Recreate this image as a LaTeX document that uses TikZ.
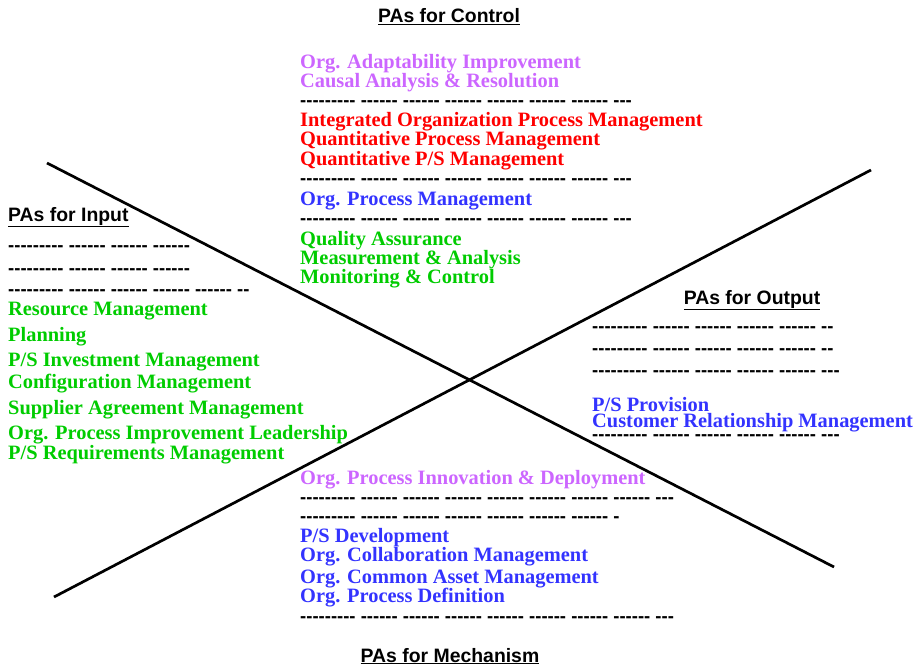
\documentclass[tikz,border=0pt]{standalone}
\usepackage{fontspec}
\setmainfont{Liberation Serif}
\setsansfont{Liberation Sans}
\newfontfamily\hyfont[Ligatures=TeXOff]{Liberation Sans}
\definecolor{paviolet}{RGB}{204,102,255}
\definecolor{pared}{RGB}{255,0,0}
\definecolor{pablue}{RGB}{51,51,255}
\definecolor{pagreen}{RGB}{0,204,0}

\begin{document}
\begin{tikzpicture}[x=1pt, y=-1pt]
\tikzset{pa/.style={anchor=base west, inner sep=0pt, font=\fontsize{20.4}{20.4}\selectfont\bfseries},
  pahead/.style={anchor=base, inner sep=0pt, font=\fontsize{19.4}{19.4}\selectfont\sffamily\bfseries},
  pasep/.style={anchor=base west, inner sep=0pt, font=\fontsize{18.5}{18.5}\selectfont\hyfont\bfseries}}
\useasboundingbox (0, 0) rectangle (924, 666);
\coordinate (A1) at (47, 163);
\coordinate (A2) at (834, 567);
\coordinate (B1) at (54, 597);
\coordinate (B2) at (871, 170);
\draw[line width=2.7pt] (A1) -- (A2);
\draw[line width=2.7pt] (B1) -- (B2);
% control
\node[pahead] (HC) at (449, 23) {\underline{PAs for Control}};
\node[pa, paviolet] (C1) at (300, 69) {Org. Adaptability Improvement};
\node[pa, paviolet] (C2) at (300, 88) {Causal Analysis \& Resolution};
\node[pasep] (C3) at (300, 107) {--------- ------ ------ ------ ------ ------ ------ ---};
\node[pa, pared] (C4) at (300, 127) {Integrated Organization Process Management};
\node[pa, pared] (C5) at (300, 146) {Quantitative Process Management};
\node[pa, pared] (C6) at (300, 166) {Quantitative P/S Management};
\node[pasep] (C7) at (300, 185) {--------- ------ ------ ------ ------ ------ ------ ---};
\node[pa, pablue] (C8) at (300, 205) {Org. Process Management};
\node[pasep] (C9) at (300, 224) {--------- ------ ------ ------ ------ ------ ------ ---};
\node[pa, pagreen] (C10) at (300, 245) {Quality Assurance};
\node[pa, pagreen] (C11) at (300, 264) {Measurement \& Analysis};
\node[pa, pagreen] (C12) at (300, 283) {Monitoring \& Control};
% input
\node[pahead, anchor=base west] (HI) at (8, 221) {\underline{PAs for Input}};
\node[pasep] (I1) at (8, 251) {--------- ------ ------ ------};
\node[pasep] (I2) at (8, 274) {--------- ------ ------ ------};
\node[pasep] (I3) at (8, 295) {--------- ------ ------ ------ ------ --};
\node[pa, pagreen] (I4) at (8, 315) {Resource Management};
\node[pa, pagreen] (I5) at (8, 341) {Planning};
\node[pa, pagreen] (I6) at (8, 366) {P/S Investment Management};
\node[pa, pagreen] (I7) at (8, 388) {Configuration Management};
\node[pa, pagreen] (I8) at (8, 414) {Supplier Agreement Management};
\node[pa, pagreen] (I9) at (8, 439) {Org. Process Improvement Leadership};
\node[pa, pagreen] (I10) at (8, 459) {P/S Requirements Management};
% output
\node[pahead] (HO) at (752, 304) {\underline{PAs for Output}};
\node[pasep] (O1) at (592, 332) {--------- ------ ------ ------ ------ --};
\node[pasep] (O2) at (592, 354) {--------- ------ ------ ------ ------ --};
\node[pasep] (O3) at (592, 376) {--------- ------ ------ ------ ------ ---};
\node[pasep] (O4) at (592, 440) {--------- ------ ------ ------ ------ ---};
\node[pa, pablue] (O5) at (592, 411) {P/S Provision};
\node[pa, pablue] (O6) at (592, 427) {Customer Relationship Management};
% mechanism
\node[pa, paviolet] (M1) at (300, 484) {Org. Process Innovation \& Deployment};
\node[pasep] (M2) at (300, 503) {--------- ------ ------ ------ ------ ------ ------ ------ ---};
\node[pasep] (M3) at (300, 522) {--------- ------ ------ ------ ------ ------ ------ -};
\node[pa, pablue] (M4) at (300, 542) {P/S Development};
\node[pa, pablue] (M5) at (300, 561) {Org. Collaboration Management};
\node[pa, pablue] (M6) at (300, 583) {Org. Common Asset Management};
\node[pa, pablue] (M7) at (300, 602) {Org. Process Definition};
\node[pasep] (M8) at (300, 622) {--------- ------ ------ ------ ------ ------ ------ ------ ---};
\node[pahead] (HM) at (450, 662) {\underline{PAs for Mechanism}};
\end{tikzpicture}
\end{document}
